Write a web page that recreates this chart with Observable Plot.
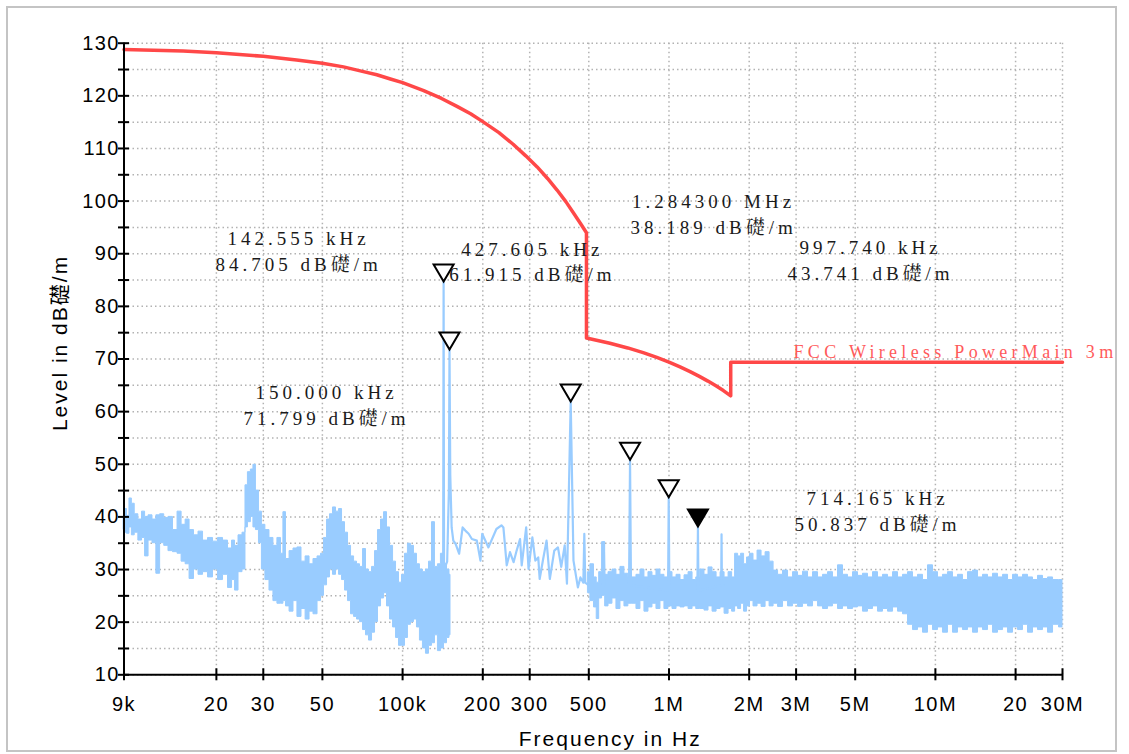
<!DOCTYPE html>
<html>
<head>
<meta charset="utf-8">
<script src="https://cdn.jsdelivr.net/npm/d3@7"></script>
<script src="https://cdn.jsdelivr.net/npm/@observablehq/plot@0.6"></script>
<style>
html, body { margin: 0; padding: 0; background: #fff; }
#wrap { position: relative; width: 1129px; height: 754px; overflow: hidden; }
#border { position: absolute; left: 6px; top: 6px; width: 1111px; height: 746px; border: 2px solid #c4c4c4; box-sizing: border-box; pointer-events: none; }
</style>
</head>
<body>
<div id="wrap"><div id="border"></div></div>
<script>
// ---------- axis ticks ----------
const xTickValues = [9, 20, 30, 50, 100, 200, 300, 500, 1000, 2000, 3000, 5000, 10000, 20000, 30000]; // kHz
const xTickLabels = ["9k", "20", "30", "50", "100k", "200", "300", "500", "1M", "2M", "3M", "5M", "10M", "20", "30M"];
const yTickMajor = [10, 20, 30, 40, 50, 60, 70, 80, 90, 100, 110, 120, 130];
const yTickAll = [10, 15, 20, 25, 30, 35, 40, 45, 50, 55, 60, 65, 70, 75, 80, 85, 90, 95, 100, 105, 110, 115, 120, 125, 130];

// ---------- limit line: FCC Wireless Power Main 3m [kHz, dBµV/m] ----------
const limitLine = [
  [9,128.8],[15,128.5],[20,128.2],[30,127.5],[40,126.8],[50,126.2],[60,125.5],[70,124.7],[80,124.0],[90,123.2],
  [100,122.5],[120,121.0],[140,119.5],[160,118.0],[180,116.6],[200,115.1],[230,113.0],[260,110.8],[290,108.6],
  [320,106.5],[350,104.3],[380,102.1],[410,99.9],[440,97.6],[470,95.4],[490,94.0],
  [490,74.0],[600,73.0],[700,72.1],[800,71.2],[900,70.3],[1000,69.4],[1100,68.5],[1200,67.6],[1300,66.7],
  [1400,65.8],[1500,64.9],[1600,64.0],[1705,63.0],[1705,69.4],[30000,69.4]
];
const limitName = "FCC Wireless PowerMain 3m";
const limitNamePos = [2934, 71.2];

// ---------- measured spectrum, noise band envelopes [kHz, low dB, high dB] ----------
const bandLow = [
  [9.0,37.5,40.0],[9.11,37.0,41.5],[9.35,36.8,40.2],[9.52,38.0,43.5],[9.75,36.5,42.5],[10.0,37.0,40.5],[10.38,35.5,39.5],
  [10.66,36.0,41.0],[10.94,32.5,40.0],[11.32,35.5,40.3],[11.71,35.0,39.5],[12.1,29.2,40.3],[12.5,35.0,40.5],[12.99,34.5,39.8],
  [13.45,33.5,40.0],[14.05,33.3,37.5],[14.55,33.0,41.0],[15.07,31.5,38.5],[15.6,31.0,39.5],[16.13,28.2,37.5],[16.84,30.0,36.5],
  [17.44,29.0,37.2],[18.21,29.5,35.5],[19.01,28.5,36.0],[19.85,30.0,35.3],[20.73,28.0,36.0],[21.64,29.0,35.5],[22.6,26.5,34.0],
  [23.2,28.0,35.5],[23.8,26.0,34.5],[24.64,29.5,36.5],[25.5,30.0,37.0],[25.94,38.0,46.0],[26.6,39.0,48.5],[27.3,40.0,49.0],
  [27.8,38.0,49.9],[28.5,37.5,45.0],[29.3,35.0,41.0],[30.0,30.0,38.5],[31.1,28.0,37.5],[32.2,26.0,36.0],[33.3,24.0,34.5],
  [34.5,23.5,36.0],[35.4,23.5,33.0],[36.0,24.0,40.9],[37.0,23.0,32.0],[38.3,22.0,33.5],[39.6,24.0,34.0],[41.0,21.0,34.2],
  [42.5,22.5,31.5],[44.0,20.5,32.5],[45.5,22.0,31.0],[47.1,21.5,32.0],[48.8,24.0,32.5],[50.0,25.0,33.0],[51.4,27.0,36.0],
  [52.7,28.5,39.5],[54.1,30.0,40.5],[55.5,29.0,41.8],[57.0,30.0,41.0],[58.5,29.0,41.5],[60.0,28.0,39.0],[61.6,26.0,37.0],
  [63.2,24.0,34.5],[64.9,21.5,32.5],[66.6,21.0,31.5],[68.3,20.5,31.0],[70.1,20.0,30.5],[72.0,18.5,33.9],[73.8,17.5,30.0],
  [75.8,16.5,29.5],[77.8,18.0,30.5],[79.8,20.0,33.5],[81.9,23.0,37.5],[84.1,24.5,39.5],[86.3,25.5,40.9],[88.5,23.0,38.0],
  [90.9,20.5,34.5],[93.3,19.0,31.5],[95.7,17.0,29.5],[98.2,15.5,27.5],[100.8,15.5,29.0],[103.4,17.0,33.0],[106.1,19.5,34.9],
  [108.9,20.0,34.5],[111.8,20.5,33.0],[114.7,19.0,31.0],[117.7,16.5,30.0],[120.8,15.0,29.5],[124.0,14.0,30.0],[127.3,15.5,31.5],
  [130.6,16.0,39.0],[134.0,17.5,30.5],[137.5,14.5,31.0],[141.1,15.0,33.0],[144.9,16.0,31.0],[148.7,17.0,30.0],[151.3,17.5,29.0]
];
const bandHigh = [
  [498,25.5,29.5],[516,24.0,31.0],[530,22.8,28.5],[541,20.6,27.5],[553,24.5,29.5],[569,25.0,35.2],[583,23.0,29.0],
  [603,23.5,29.5],[624,24.5,30.0],[646,22.5,29.0],[669,24.0,30.5],[692,23.0,29.2],[716,23.5,28.5],[742,23.5,28.5],[768,22.5,29.0],
  [795,24.0,30.0],[823,22.0,28.5],[852,22.8,29.5],[882,23.5,28.8],[913,22.5,30.0],[945,24.0,29.0],[978,22.5,28.5],[1013,23.0,29.5],
  [1049,22.5,28.5],[1086,23.0,29.0],[1124,22.8,28.0],[1164,23.0,28.9],[1205,22.5,29.5],[1247,23.0,28.0],[1284,22.5,28.5],
  [1336,22.5,30.0],[1383,22.2,29.0],[1432,23.0,30.4],[1483,22.0,29.5],[1535,22.5,28.5],[1589,22.8,29.5],[1645,21.6,28.5],
  [1703,22.5,29.5],[1748,22.0,28.5],[1794,23.0,33.0],[1841,22.5,32.5],[1889,23.5,33.0],[1938,22.0,31.0],[1989,23.0,32.3],
  [2040,24.0,33.0],[2113,23.0,31.7],[2187,23.5,33.6],[2265,22.9,32.5],[2345,24.0,33.3],[2427,23.0,31.5],[2513,23.5,29.8],
  [2622,22.9,29.0],[2738,24.0,29.8],[2859,23.0,28.5],[2986,23.5,29.5],[3117,22.9,28.8],[3255,23.5,29.6],[3398,23.0,28.5],
  [3549,24.0,29.5],[3705,23.0,28.5],[3869,22.5,29.0],[4038,23.0,29.5],[4217,23.5,28.5],[4404,22.5,30.8],[4598,23.0,29.0],
  [4802,22.5,28.5],[5013,22.8,29.5],[5234,23.0,28.8],[5465,22.0,29.2],[5708,22.5,28.5],[5958,23.0,29.5],[6222,22.0,28.5],
  [6496,22.5,29.0],[6787,22.0,28.5],[7085,22.8,29.5],[7397,22.0,28.5],[7723,21.5,29.0],[8065,19.5,29.5],[8420,18.5,28.5],
  [8793,19.0,29.0],[9181,18.0,28.0],[9585,19.5,30.8],[10010,18.5,29.5],[10449,19.0,28.5],[10910,18.0,29.0],[11394,19.5,29.5],
  [11896,18.0,28.5],[12420,19.0,29.0],[12970,18.5,28.0],[13545,19.0,29.5],[14140,18.0,29.8],[14769,19.0,28.5],[15420,18.5,29.0],
  [16101,19.5,28.5],[16810,18.0,29.2],[17559,18.5,28.5],[18340,19.0,29.0],[19143,18.0,28.0],[19990,19.0,29.0],[20871,18.5,28.5],
  [21790,19.5,29.0],[22752,18.0,28.5],[23760,19.0,28.0],[24804,18.5,28.8],[25900,19.0,28.2],[27054,18.0,28.5],[28250,19.5,28.0],
  [30000,19.0,28.0]
];

// ---------- measured spectrum, single trace (thin section and peaks) [kHz, dB] ----------
const trace = [
  [138.8,30.0],[142.0,31.0],[142.555,84.705],[143.1,30.0],[147.0,31.5],[149.2,45.0],[150.0,71.799],[151.0,48.0],[152.8,38.0],
  [155.0,35.5],[158.0,34.9],[163.0,33.0],[168.0,38.0],[172.0,37.4],[177.0,36.8],[182.0,35.8],[190.0,35.5],[196.0,31.7],
  [199.0,36.8],[210.0,34.2],[225.0,37.7],[235.0,38.4],[239.0,38.0],[246.0,30.8],[253.0,33.3],[261.0,31.4],[268.0,33.6],
  [276.0,35.8],[280.0,30.8],[291.0,38.0],[297.0,30.1],[307.0,36.1],[315.0,31.7],[323.0,32.3],[327.0,28.2],[337.0,32.0],
  [347.0,35.5],[357.0,28.2],[371.0,33.6],[383.0,34.2],[394.0,30.5],[406.0,34.6],[414.0,27.3],[427.605,61.915],[438.0,31.7],
  [455.0,26.6],[465.0,28.5],[477.0,27.5],[481.0,36.8],[485.0,27.5],[500.0,27.0],[565.0,27.0],[569.0,35.2],[573.0,27.0],
  [708.0,27.0],[714.165,50.837],[720.0,27.0],[992.0,26.0],[997.74,43.741],[1003.0,26.0],[1278.0,26.0],[1284.3,38.189],
  [1290.0,26.0],[1570.0,27.0],[1575.0,36.7],[1580.0,27.0],[1600.0,27.0]
];

// ---------- markers ----------
const markerFreq = [142.555, 150.0, 427.605, 714.165, 997.74, 1284.3];
const markerLevel = [84.705, 71.799, 61.915, 50.837, 43.741, 38.189];
const markerActive = [false, false, false, false, false, true];
const markerFreqText = ["142.555 kHz", "150.000 kHz", "427.605 kHz", "714.165 kHz", "997.740 kHz", "1.284300 MHz"];
const markerLevelText = ["84.705 dB礎/m", "71.799 dB礎/m", "61.915 dB礎/m", "50.837 dB礎/m", "43.741 dB礎/m", "38.189 dB礎/m"];
const labelFreq = [40.7, 51.8, 307, 6064, 5708, 1470];
const labelLevel = [90.75, 61.5, 88.7, 41.3, 89.0, 97.8];

const xTitle = "Frequency in Hz";
const yTitle = "Level in dB礎/m";

// ---------- build ----------
const BLUE = "#99ccff";
const RED = "#ff4848";
const markers = markerFreq.map((f, i) => ({f, level: markerLevel[i], active: markerActive[i]}));
const annotations = markerFreq.map((f, i) => ({lf: labelFreq[i], ll: labelLevel[i], text: markerFreqText[i] + "\n" + markerLevelText[i]}));
const invTriangle = {
  draw(context) {
    context.moveTo(0, 0);
    context.lineTo(-10, -17);
    context.lineTo(10, -17);
    context.closePath();
  }
};
const serif = "'Liberation Serif', 'Noto Serif CJK SC', 'Noto Sans CJK SC', serif";
const sans = "'Liberation Sans', Arial, 'Noto Sans CJK SC', sans-serif";

const chart = Plot.plot({
  width: 1129,
  height: 754,
  marginLeft: 123.5,
  marginRight: 67,
  marginTop: 42.7,
  marginBottom: 79.7,
  style: {fontFamily: sans, fontSize: "20px", background: "white", color: "black"},
  x: {type: "log", domain: [9, 30000]},
  y: {type: "linear", domain: [10, 130]},
  marks: [
    Plot.gridX({ticks: xTickValues, stroke: "#b2b2b2", strokeOpacity: 1, strokeWidth: 1.5, strokeDasharray: "1.5,3"}),
    Plot.gridY({ticks: yTickAll, stroke: "#b2b2b2", strokeOpacity: 1, strokeWidth: 1.5, strokeDasharray: "1.5,3"}),
    Plot.areaY(bandLow, {x: d => d[0], y1: d => d[1], y2: d => d[2], curve: "step", fill: BLUE, stroke: BLUE, strokeWidth: 1}),
    Plot.areaY(bandHigh, {x: d => d[0], y1: d => d[1], y2: d => d[2], curve: "step", fill: BLUE, stroke: BLUE, strokeWidth: 1}),
    Plot.line(trace, {x: d => d[0], y: d => d[1], stroke: BLUE, strokeWidth: 2.2}),
    Plot.line(limitLine, {x: d => d[0], y: d => d[1], stroke: RED, strokeWidth: 3.5}),
    Plot.ruleX([9], {stroke: "black", strokeWidth: 2}),
    Plot.ruleY([10], {stroke: "black", strokeWidth: 2}),
    Plot.axisY({ticks: yTickAll, tickSize: 11, dx: 5.5, tickFormat: () => "", label: null, strokeWidth: 2}),
    Plot.axisX({ticks: xTickValues, tickSize: 12, dy: -6, tickFormat: () => "", label: null, strokeWidth: 2}),
    Plot.axisY({ticks: yTickMajor, tickSize: 0, tickPadding: 4, fontSize: 20, label: null}),
    Plot.text(xTickValues, {x: d => d, text: (d, i) => xTickLabels[i], frameAnchor: "bottom", lineAnchor: "middle",
      textAnchor: "middle", dy: 30, fontSize: 20}),
    Plot.text([xTitle], {frameAnchor: "bottom", textAnchor: "middle", lineAnchor: "middle", dx: 17, dy: 64, fontSize: 21}),
    Plot.text([yTitle], {frameAnchor: "left", textAnchor: "middle", lineAnchor: "middle", rotate: -90, dx: -64, dy: -16, fontSize: 21}),
    Plot.text(annotations, {x: "lf", y: "ll", text: "text", lineHeight: 1.34, fontFamily: serif, fontSize: 19,
      fill: "#1a1a1a", textAnchor: "middle"}),
    Plot.dot(markers.filter(d => !d.active), {x: "f", y: "level", symbol: invTriangle, fill: "white", stroke: "black", strokeWidth: 2}),
    Plot.dot(markers.filter(d => d.active), {x: "f", y: "level", symbol: invTriangle, fill: "black", stroke: "black", strokeWidth: 2}),
    Plot.text([{f: limitNamePos[0], l: limitNamePos[1], t: limitName}], {x: "f", y: "l", text: "t", textAnchor: "start",
      fontFamily: serif, fontSize: 18, fill: "#ff5a5a"})
  ]
});

// letter spacing, as in the reference rendering
const tickLabelSet = new Set([...xTickLabels, ...yTickMajor.map(String)]);
d3.select(chart).selectAll("text").each(function () {
  const s = this.textContent;
  let ls = null;
  if (s.includes("dB礎/m") && s.includes("Hz")) ls = "4px";
  else if (s === limitName) ls = "4.3px";
  else if (s === xTitle || s === yTitle) ls = "2px";
  else if (tickLabelSet.has(s)) ls = "1.5px";
  if (ls) this.style.letterSpacing = ls;
});
document.getElementById("wrap").prepend(chart);
</script>
</body>
</html>
